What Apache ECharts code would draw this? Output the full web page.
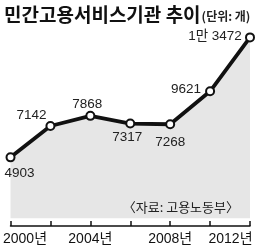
<!DOCTYPE html>
<html>
<head>
<meta charset="utf-8">
<script src="https://cdn.jsdelivr.net/npm/echarts@6/dist/echarts.min.js"></script>
<style>
  html, body { margin: 0; padding: 0; background: #fff; }
  #chart { width: 258px; height: 250px; }
</style>
</head>
<body>
<div id="chart"></div>
<script>
  const years = ["2000", "2002", "2004", "2006", "2008", "2010", "2012"];
  const counts = [4903, 7142, 7868, 7317, 7268, 9621, 13472];

  // where each value label sits, relative to its point
  const labelOffsets = [[9, 16], [-19, -11], [-3, -12], [-3, 14], [0, 18], [-24, -2], [-35, -1]];

  const font = "'Liberation Sans', 'Noto Sans CJK KR', sans-serif";

  const fmtCount = (v) => {
    if (v >= 10000) return Math.floor(v / 10000) + "만 " + (v % 10000);
    return String(v);
  };

  const myChart = echarts.init(document.getElementById("chart"));
  myChart.setOption({
    animation: false,
    title: [
      {
        left: -1,
        top: 0,
        text: "{a|민간고용서비스기관 추이}{b|(단위: 개)}",
        textStyle: {
          rich: {
            a: { fontFamily: "'Noto Sans CJK KR'", fontWeight: "bold", fontSize: 19, color: "#111" },
            b: { fontFamily: "'Noto Sans CJK KR'", fontSize: 12, color: "#222", padding: [3, 0, 0, 1] },
          },
        },
      },
      {
        right: 14,
        top: 196,
        text: "〈자료: 고용노동부〉",
        textStyle: { fontFamily: "'Noto Sans CJK KR'", fontSize: 13, fontWeight: "normal", color: "#222" },
      },
    ],
    grid: { left: 8, right: 8, top: 16, bottom: 24 },
    xAxis: {
      type: "category",
      boundaryGap: false,
      data: years,
      axisLine: { lineStyle: { color: "#111", width: 1.5 } },
      axisTick: { inside: true, length: 5, interval: 0, lineStyle: { color: "#111", width: 1.5 } },
      axisLabel: {
        interval: 1,
        margin: 6,
        color: "#111",
        fontFamily: font,
        fontSize: 14,
        formatter: (v, i) => {
          if (i === 0) return "{f|" + v + "년}";
          if (i === years.length - 1) return "{l|" + v + "년}";
          return v + "년";
        },
        rich: {
          f: { fontFamily: font, fontSize: 14, color: "#111", padding: [0, 0, 0, 29] },
          l: { fontFamily: font, fontSize: 14, color: "#111", padding: [0, 39, 0, 0] },
        },
      },
    },
    yAxis: {
      type: "value",
      min: 0,
      max: 15000,
      show: false,
    },
    series: [
      {
        type: "line",
        data: counts.map((v, i) => ({
          value: v,
          label: { offset: labelOffsets[i] },
        })),
        symbol: "circle",
        symbolSize: 8,
        lineStyle: { color: "#111", width: 3.8 },
        itemStyle: { color: "#fff", borderColor: "#111", borderWidth: 2 },
        areaStyle: { color: "#e6e6e6", opacity: 1, origin: 550 },
        label: {
          show: true,
          position: "inside",
          color: "#222",
          fontFamily: font,
          fontSize: 13.5,
          formatter: (p) => fmtCount(p.value),
        },
        z: 3,
      },
    ],
  });
</script>
</body>
</html>
